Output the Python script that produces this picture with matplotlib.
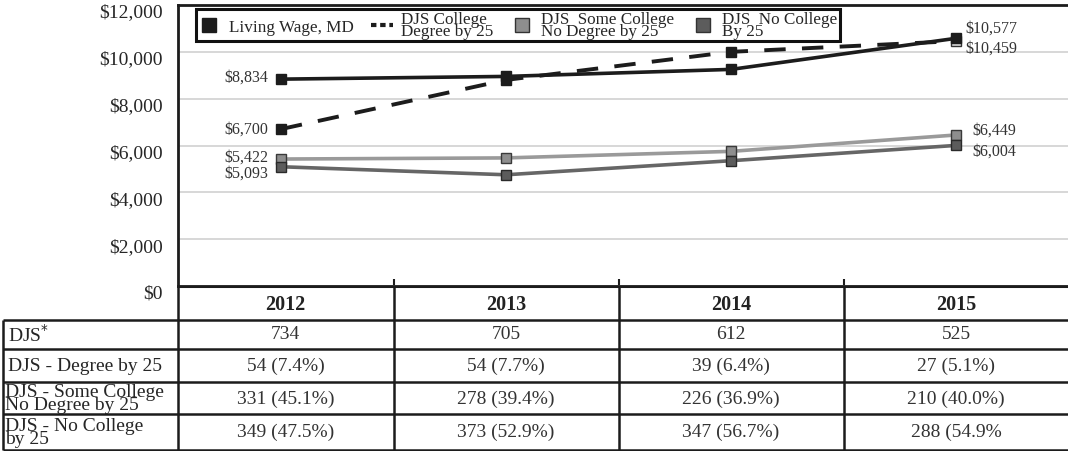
import matplotlib
matplotlib.use("Agg")
import matplotlib.pyplot as plt
import matplotlib.transforms as mtransforms
from matplotlib.lines import Line2D

# ---------------- data ----------------
years = ["2012", "2013", "2014", "2015"]
living_wage = [8834, 8950, 9250, 10577]
college_degree = [6700, 8800, 10000, 10459]
some_college = [5422, 5470, 5750, 6449]
no_college = [5093, 4750, 5350, 6004]
y_ticks = [0, 2000, 4000, 6000, 8000, 10000, 12000]

row_labels = ["DJS*", "DJS - Degree by 25", "DJS - Some College\nNo Degree by 25", "DJS - No College\nby 25"]
djs_total = ["734", "705", "612", "525"]
djs_degree = ["54 (7.4%)", "54 (7.7%)", "39 (6.4%)", "27 (5.1%)"]
djs_some = ["331 (45.1%)", "278 (39.4%)", "226 (36.9%)", "210 (40.0%)"]
djs_none = ["349 (47.5%)", "373 (52.9%)", "347 (56.7%)", "288 (54.9%"]

legend_labels = ["Living Wage, MD", "DJS College\nDegree by 25", "DJS  Some College\nNo Degree by 25", "DJS  No College\nBy 25"]

# ---------------- style ----------------
FONT = "Liberation Serif"
plt.rcParams["font.family"] = [FONT, "DejaVu Serif"]
W, H = 1068, 452
DPI = 100
dark = "#1c1c1c"
txt = "#262626"
c_some = "#9a9a9a"
c_some_m = "#8e8e8e"
c_none = "#666666"
c_none_m = "#5c5c5c"

fig = plt.figure(figsize=(W / DPI, H / DPI), dpi=DPI)

# layout in pixels
ax_left, ax_right, ax_top, ax_bottom = 178, 1068, 6, 287
first_px, step_px = 281, 225
x0 = (ax_left - first_px) / step_px
x1 = (ax_right - first_px) / step_px

ax = fig.add_axes([ax_left / W, 1 - ax_bottom / H, (ax_right - ax_left) / W, (ax_bottom - ax_top) / H])
xs = list(range(len(years)))

ax.plot(xs, living_wage, color=dark, lw=2.6, marker="s", ms=7, mfc=dark, mec=dark, zorder=5)
ax.plot(xs, college_degree, color=dark, lw=2.8, dashes=(5.5, 4.2), marker="s", ms=7,
        mfc=dark, mec=dark, markevery=[0, 1, 2], zorder=4)
ax.plot(xs[-1:], college_degree[-1:], ls="none", marker="s", ms=7, mfc="#dcdcdc", mec="#333333", mew=1.0, zorder=4)
ax.plot(xs, some_college, color=c_some, lw=2.6, marker="s", ms=7.5, mfc=c_some_m, mec="#3a3a3a", mew=1.0, zorder=3)
ax.plot(xs, no_college, color=c_none, lw=2.6, marker="s", ms=7.5, mfc=c_none_m, mec="#2a2a2a", mew=1.0, zorder=3)

ax.set_xlim(x0, x1)
ax.set_ylim(0, 12000)
ax.set_yticks(y_ticks)
ax.set_yticklabels([f"${v:,}" for v in y_ticks], fontsize=14, color=txt)
ax.tick_params(axis="y", length=0, pad=11)
shift = mtransforms.ScaledTranslation(0, -5 / DPI, fig.dpi_scale_trans)
for lbl in ax.get_yticklabels():
    lbl.set_transform(lbl.get_transform() + shift)
ax.set_xticks([])
ax.set_xticks([i + 0.5 for i in xs[:-1]], minor=True)
ax.tick_params(axis="x", which="minor", direction="in", length=5, width=1.5, color=dark)
ax.yaxis.grid(True, color="#d4d4d4", lw=1.3)
ax.set_axisbelow(True)
for s in ["left", "top", "bottom"]:
    ax.spines[s].set_color(dark)
    ax.spines[s].set_linewidth(2.0)
ax.spines["right"].set_visible(False)

# data labels
lab_kw = dict(textcoords="offset points", fontsize=11.5, color="#333333", va="center")
def fmt(v):
    return f"${v:,}"
ax.annotate(fmt(living_wage[0]), (xs[0], living_wage[0]), xytext=(-9, 2), ha="right", **lab_kw)
ax.annotate(fmt(college_degree[0]), (xs[0], college_degree[0]), xytext=(-9, 0), ha="right", **lab_kw)
ax.annotate(fmt(some_college[0]), (xs[0], some_college[0]), xytext=(-9, 1.5), ha="right", **lab_kw)
ax.annotate(fmt(no_college[0]), (xs[0], no_college[0]), xytext=(-9, -4), ha="right", **lab_kw)
ax.annotate(fmt(living_wage[-1]), (xs[-1], living_wage[-1]), xytext=(7, 8), ha="left", **lab_kw)
ax.annotate(fmt(college_degree[-1]), (xs[-1], college_degree[-1]), xytext=(7, -5), ha="left", **lab_kw)
ax.annotate(fmt(some_college[-1]), (xs[-1], some_college[-1]), xytext=(12, 4), ha="left", **lab_kw)
ax.annotate(fmt(no_college[-1]), (xs[-1], no_college[-1]), xytext=(12, -4), ha="left", **lab_kw)

# legend
handles = [
    Line2D([], [], ls="none", marker="s", ms=10, mfc=dark, mec=dark),
    Line2D([], [], color=dark, lw=3, dashes=(1.3, 0.9)),
    Line2D([], [], ls="none", marker="s", ms=10, mfc=c_some_m, mec="#333333", mew=1),
    Line2D([], [], ls="none", marker="s", ms=10, mfc=c_none_m, mec="#333333", mew=1),
]
leg = ax.legend(handles, legend_labels, ncol=4, loc="upper left",
                bbox_to_anchor=((196 - ax_left) / (ax_right - ax_left), (ax_bottom - 10) / (ax_bottom - ax_top)),
                borderaxespad=0, frameon=True, fancybox=False, framealpha=1, fontsize=12.3, handlelength=1.3,
                handletextpad=0.5, columnspacing=1.0, borderpad=0.12, labelspacing=0.2)
leg.get_frame().set_edgecolor("#111111")
leg.get_frame().set_linewidth(2.2)
for t in leg.get_texts():
    t.set_linespacing(0.68)
    t.set_color(txt)

# ---------------- table ----------------
tax = fig.add_axes([0, 0, 1, (H - ax_bottom) / H])
tx0 = x0 - ax_left / step_px
tax.set_xlim(tx0, x1)
tax.set_ylim(H - ax_bottom, 0)
tax.axis("off")

row_edges = [0, 33.5, 62.5, 96, 128, 163.5]
col_edges = [x0] + [i + 0.5 for i in xs[:-1]] + [x1 + 0.1]
lab_left = tx0 + 3 / step_px
lw_t = 1.8
tax.plot([x0, x1 + 0.1], [row_edges[0]] * 2, color=dark, lw=2.2, solid_capstyle="butt")
for r in row_edges[1:]:
    tax.plot([lab_left, x1 + 0.1], [r, r], color=dark, lw=lw_t, solid_capstyle="butt")
for c in col_edges[:-1]:
    tax.plot([c, c], [row_edges[0], row_edges[-1]], color=dark, lw=lw_t, solid_capstyle="butt")
tax.plot([lab_left, lab_left], [row_edges[1], row_edges[-1]], color=dark, lw=lw_t, solid_capstyle="butt")

centers = [(row_edges[i] + row_edges[i + 1]) / 2 for i in range(len(row_edges) - 1)]
col_centers = [(col_edges[0] + col_edges[1]) / 2] + xs[1:]
for i, y in enumerate(years):
    tax.text(col_centers[i], centers[0] + 1, y, ha="center", va="center",
             fontsize=14.5, fontweight="bold", color="#222222")
rows = [djs_total, djs_degree, djs_some, djs_none]
for r, vals in enumerate(rows):
    for i, v in enumerate(vals):
        tax.text(col_centers[i], centers[r + 1], v, ha="center", va="center", fontsize=14, color="#333333")
label_x = tx0 + 8 / step_px
tax.text(label_x, centers[1], "DJS$^{*}$", ha="left", va="center", fontsize=14, color=txt)
for r, lab in enumerate(row_labels[1:], start=2):
    tax.text(label_x - (3 / step_px if "\n" in lab else 0), centers[r], lab, ha="left", va="center",
             fontsize=14, color=txt, linespacing=0.68)

fig.savefig("out.png", dpi=DPI)
